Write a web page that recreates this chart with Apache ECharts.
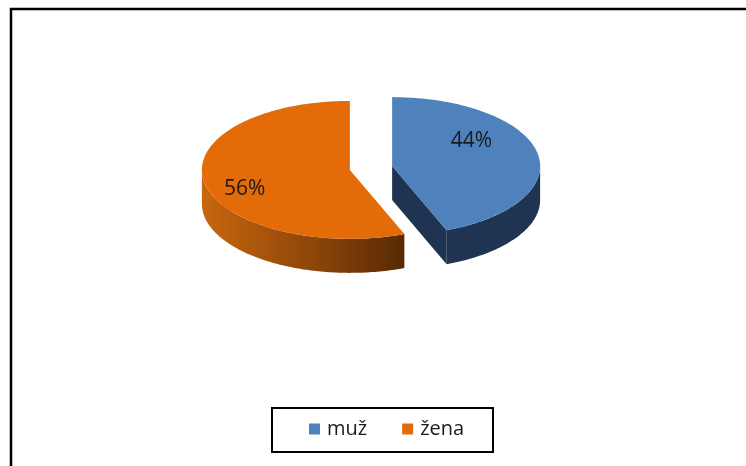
<!DOCTYPE html>
<html>
<head>
<meta charset="utf-8">
<script src="https://cdn.jsdelivr.net/npm/echarts@6/dist/echarts.min.js"></script>
<style>
  html, body { margin: 0; padding: 0; background: #fff; }
  #main { width: 746px; height: 466px; }
</style>
</head>
<body>
<div id="main"></div>
<script>
// data
const categories = ['muž', 'žena']
const values = [44, 56]

// look
const topColors = ['#4F81BD', '#E36C09']
const PIE = { cx: 371, cy: 168, rx: 148, ry: 69, depth: 34, explode: 21.5 }
const labelShift = [[-8, -17], [-18, 11]]

const total = values.reduce((a, b) => a + b, 0)

function proj(ox, oy, theta, h) {
    const a = theta * Math.PI / 180
    return [ox + PIE.rx * Math.sin(a), oy - PIE.ry * Math.cos(a) + h]
}

function arc(ox, oy, t0, t1, h) {
    const pts = []
    const n = Math.max(2, Math.ceil(t1 - t0))
    for (let k = 0; k <= n; k++) {
        pts.push(proj(ox, oy, t0 + (t1 - t0) * k / n, h))
    }
    return pts
}

function sideFill(i) {
    if (i === 0) return '#1F3452'
    return new echarts.graphic.LinearGradient(0, 0, 1, 0, [
        { offset: 0, color: '#C8670E' },
        { offset: 0.5, color: '#93480A' },
        { offset: 1, color: '#582A03' }
    ])
}

function sliceRenderer(i) {
    return function (params, api) {
        const before = values.slice(0, i).reduce((a, b) => a + b, 0)
        const start = before / total * 360
        const end = start + api.value(0) / total * 360
        const mid = (start + end) / 2
        const m = mid * Math.PI / 180
        const ox = PIE.cx + PIE.explode * Math.sin(m)
        const oy = PIE.cy - PIE.explode * Math.cos(m) * PIE.ry / PIE.rx
        const d = PIE.depth
        const children = []

        // radial side faces that face the viewer
        const sinE = Math.sin(end * Math.PI / 180)
        const sinS = Math.sin(start * Math.PI / 180)
        if (sinE > 0.001) {
            const p = proj(ox, oy, end, 0), q = proj(ox, oy, end, d)
            children.push({ type: 'polygon', shape: { points: [[ox, oy], p, q, [ox, oy + d]] },
                style: { fill: sideFill(i) } })
        }
        if (sinS < -0.001) {
            const p = proj(ox, oy, start, 0), q = proj(ox, oy, start, d)
            children.push({ type: 'polygon', shape: { points: [[ox, oy], p, q, [ox, oy + d]] },
                style: { fill: sideFill(i) } })
        }
        // outer wall, front half only
        const w0 = Math.max(start, 90), w1 = Math.min(end, 270)
        if (w1 > w0) {
            const pts = arc(ox, oy, w0, w1, 0).concat(arc(ox, oy, w0, w1, d).reverse())
            children.push({ type: 'polygon', shape: { points: pts }, style: { fill: sideFill(i) } })
        }
        // top face
        children.push({ type: 'polygon', shape: { points: [[ox, oy]].concat(arc(ox, oy, start, end, 0)) },
            style: { fill: topColors[i] } })

        // percent label
        const lp = [ox + 0.6 * PIE.rx * Math.sin(m) + labelShift[i][0],
                    oy - 0.6 * PIE.ry * Math.cos(m) + labelShift[i][1]]
        children.push({ type: 'text', x: lp[0], y: lp[1], style: {
            text: Math.round(api.value(0) / total * 100) + '%',
            fill: '#1a1a1a', font: '21px "Open Sans"', align: 'center', verticalAlign: 'middle'
        } })
        return { type: 'group', children: children }
    }
}

const chart = echarts.init(document.getElementById('main'), null, { renderer: 'canvas' })
chart.setOption({
    backgroundColor: '#fff',
    animation: false,
    graphic: [
        { type: 'rect', shape: { x: 11, y: 9, width: 800, height: 500 },
          style: { fill: 'none', stroke: '#000', lineWidth: 2.5 } },
        { type: 'rect', shape: { x: 272, y: 408, width: 221, height: 44 },
          style: { fill: 'none', stroke: '#000', lineWidth: 2 } }
    ],
    legend: {
        left: 309,
        top: 419,
        padding: 0,
        itemWidth: 11,
        itemHeight: 11,
        itemGap: 35,
        icon: 'rect',
        selectedMode: false,
        textStyle: { fontFamily: 'Open Sans', fontSize: 20, color: '#1a1a1a', padding: [0, 0, 0, 2] },
        data: categories
    },
    series: categories.map((name, i) => ({
        name: name,
        type: 'custom',
        coordinateSystem: 'none',
        silent: true,
        itemStyle: { color: topColors[i] },
        renderItem: sliceRenderer(i),
        data: [[values[i]]]
    }))
})

window.addEventListener('resize', function () {
    chart && chart.resize()
})
</script>
</body>
</html>
